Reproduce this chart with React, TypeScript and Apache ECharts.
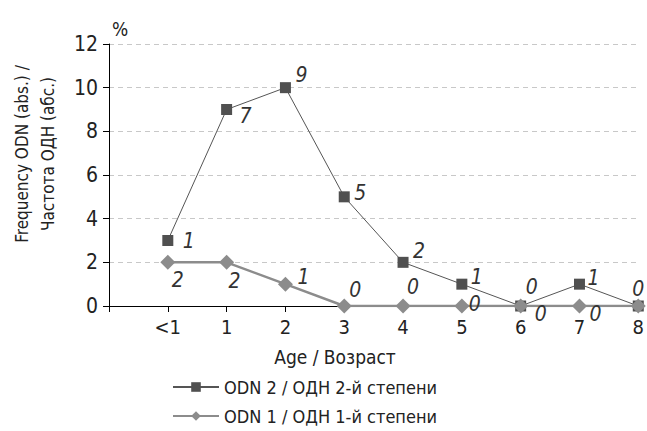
import React, { useEffect, useRef } from "react";
import * as echarts from "echarts";

const categories = ["<1", "1", "2", "3", "4", "5", "6", "7", "8"];
const odn2Values = [3, 9, 10, 5, 2, 1, 0, 1, 0];
const odn2Labels = ["1", "7", "9", "5", "2", "1", "0", "1", "0"];
const odn1Values = [2, 2, 1, 0, 0, 0, 0, 0, 0];
const odn1Labels = ["2", "2", "1", "0", "0", "0", "0", "0", ""];
const yTicks = { min: 0, max: 12, interval: 2 };

// label offsets (styling only)
const odn2Offsets = [[21, 0], [19, 6], [16, -13], [16, -4], [16, -11], [15, -7], [11, -19], [14, -6], [0, -17]];
const odn1Offsets = [[10, 18], [8, 19], [18, -7], [11, -16], [10, -19], [13, -2], [20, 8], [16, 8], [20, 8]];

const FONT = "'Liberation Sans Narrow', 'DejaVu Sans Condensed', 'Roboto', sans-serif";

export default function App() {
  const ref = useRef<HTMLDivElement>(null);
  useEffect(() => {
    if (!ref.current) return;
    const chart = echarts.init(ref.current, undefined, { renderer: "svg" });
    const mk = (vals: number[], labels: string[], offs: number[][]) => [
      "-",
      ...vals.map((v, i) => ({
        value: v,
        label: {
          show: labels[i] !== "",
          position: "inside",
          offset: offs[i],
          formatter: labels[i],
        },
      })),
    ];
    const labelStyle = {
      fontFamily: FONT,
      fontStyle: "italic",
      fontSize: 21,
      color: "#333",
      align: "center",
      verticalAlign: "middle",
    };
    chart.setOption({
      animation: false,
      textStyle: { fontFamily: FONT },
      grid: { left: 109, right: 8, top: 44, bottom: 125, containLabel: false },
      xAxis: {
        type: "category",
        boundaryGap: false,
        data: ["", ...categories],
        axisLine: { show: true, lineStyle: { color: "#000", width: 1 } },
        axisTick: { show: true, length: 6, lineStyle: { color: "#000" } },
        axisLabel: { fontFamily: FONT, fontSize: 20, color: "#222", margin: 11 },
        splitLine: { show: false },
      },
      yAxis: {
        type: "value",
        min: yTicks.min,
        max: yTicks.max,
        interval: yTicks.interval,
        axisLine: { show: true, lineStyle: { color: "#000", width: 1 } },
        axisTick: { show: true, length: 6, lineStyle: { color: "#000" } },
        axisLabel: { fontFamily: FONT, fontSize: 21, color: "#222", margin: 11 },
        splitLine: { show: true, lineStyle: { color: "#c8c8c8", type: [5, 4], width: 1 } },
      },
      legend: {
        orient: "vertical",
        left: 172,
        top: 378,
        padding: 0,
        itemWidth: 46,
        itemHeight: 12,
        itemGap: 11,
        textStyle: { fontFamily: FONT, fontSize: 18, color: "#222" },
        data: ["ODN 2 / ОДН 2-й степени", "ODN 1 / ОДН 1-й степени"],
      },
      graphic: [
        {
          type: "text",
          x: 35,
          y: 154,
          rotation: Math.PI / 2,
          style: {
            text: "Frequency ODN (abs.) /\nЧастота ОДН (абс.)",
            fontFamily: FONT,
            fontSize: 17,
            lineHeight: 26,
            fill: "#222",
            align: "center",
            verticalAlign: "middle",
          },
        },
        {
          type: "text",
          x: 120,
          y: 29,
          style: {
            text: "%",
            fontFamily: FONT,
            fontSize: 19,
            fill: "#222",
            align: "center",
            verticalAlign: "middle",
          },
        },
        {
          type: "text",
          x: 335,
          y: 357,
          style: {
            text: "Age / Возраст",
            fontFamily: FONT,
            fontSize: 19,
            fill: "#222",
            align: "center",
            verticalAlign: "middle",
          },
        },
      ],
      series: [
        {
          name: "ODN 2 / ОДН 2-й степени",
          type: "line",
          data: mk(odn2Values, odn2Labels, odn2Offsets),
          symbol: "rect",
          symbolSize: 11,
          lineStyle: { color: "#555", width: 1 },
          itemStyle: { color: "#505050" },
          label: labelStyle,
          z: 2,
        },
        {
          name: "ODN 1 / ОДН 1-й степени",
          type: "line",
          data: mk(odn1Values, odn1Labels, odn1Offsets),
          symbol: "diamond",
          symbolSize: 15,
          lineStyle: { color: "#8c8c8c", width: 2.5 },
          itemStyle: { color: "#8c8c8c" },
          label: labelStyle,
          z: 3,
        },
      ],
    });
    return () => chart.dispose();
  }, []);
  return <div ref={ref} style={{ width: 647, height: 431, position: "absolute", left: 0, top: 0 }} />;
}
